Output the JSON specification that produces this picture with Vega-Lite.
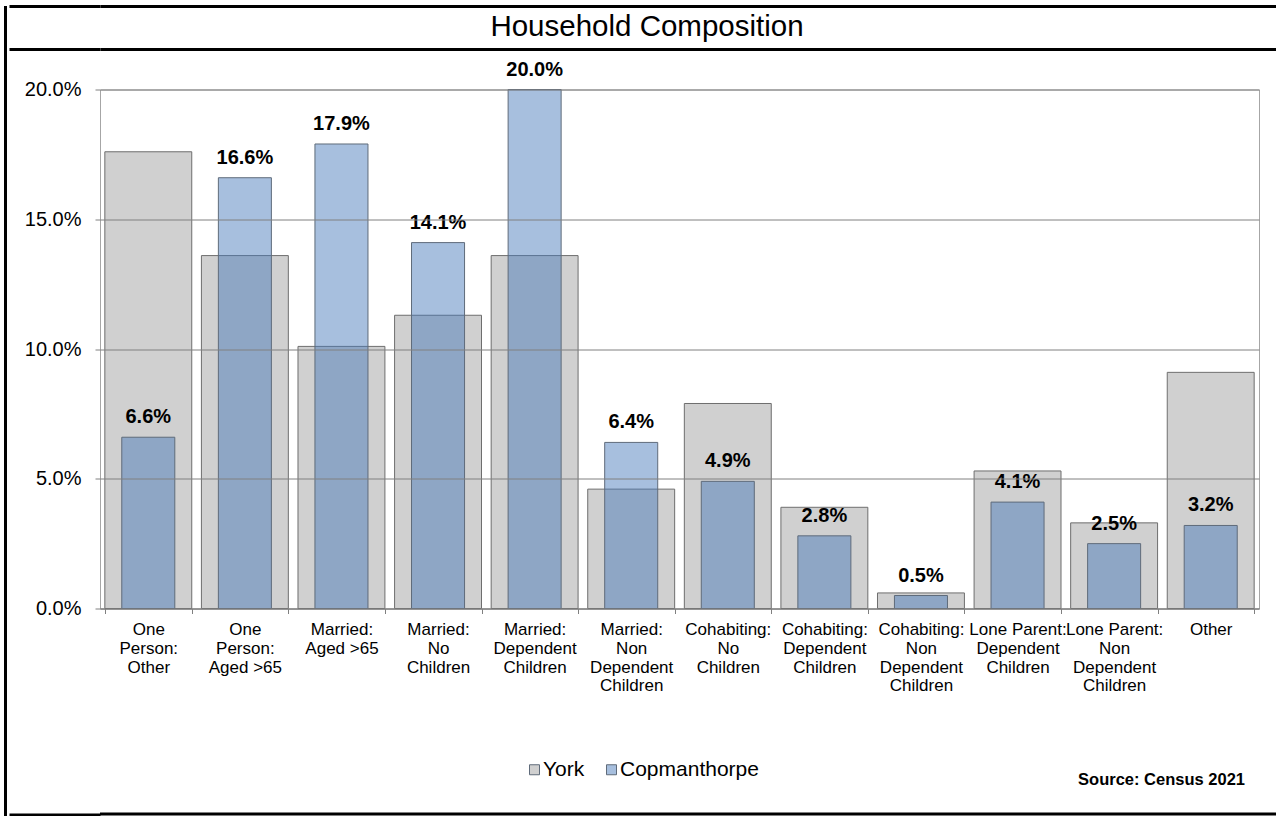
{
  "$schema": "https://vega.github.io/schema/vega-lite/v6.json",
  "background": "white",
  "padding": {"left": 4, "top": 4, "right": 0, "bottom": 0},
  "autosize": {"type": "pad"},
  "config": {"font": "Liberation Sans", "view": {"stroke": null}},
  "datasets": {
    "hh": [
      {"cat": "One|Person:|Other", "series": "York", "value": 0.176},
      {"cat": "One|Person:|Other", "series": "Copmanthorpe", "value": 0.066},
      {"cat": "One|Person:|Aged >65", "series": "York", "value": 0.136},
      {"cat": "One|Person:|Aged >65", "series": "Copmanthorpe", "value": 0.166},
      {"cat": "Married:|Aged >65", "series": "York", "value": 0.101},
      {"cat": "Married:|Aged >65", "series": "Copmanthorpe", "value": 0.179},
      {"cat": "Married:|No|Children", "series": "York", "value": 0.113},
      {"cat": "Married:|No|Children", "series": "Copmanthorpe", "value": 0.141},
      {"cat": "Married:|Dependent|Children", "series": "York", "value": 0.136},
      {"cat": "Married:|Dependent|Children", "series": "Copmanthorpe", "value": 0.200},
      {"cat": "Married:|Non|Dependent|Children", "series": "York", "value": 0.046},
      {"cat": "Married:|Non|Dependent|Children", "series": "Copmanthorpe", "value": 0.064},
      {"cat": "Cohabiting:|No|Children", "series": "York", "value": 0.079},
      {"cat": "Cohabiting:|No|Children", "series": "Copmanthorpe", "value": 0.049},
      {"cat": "Cohabiting:|Dependent|Children", "series": "York", "value": 0.039},
      {"cat": "Cohabiting:|Dependent|Children", "series": "Copmanthorpe", "value": 0.028},
      {"cat": "Cohabiting:|Non|Dependent|Children", "series": "York", "value": 0.006},
      {"cat": "Cohabiting:|Non|Dependent|Children", "series": "Copmanthorpe", "value": 0.005},
      {"cat": "Lone Parent:|Dependent|Children", "series": "York", "value": 0.053},
      {"cat": "Lone Parent:|Dependent|Children", "series": "Copmanthorpe", "value": 0.041},
      {"cat": "Lone Parent:|Non|Dependent|Children", "series": "York", "value": 0.033},
      {"cat": "Lone Parent:|Non|Dependent|Children", "series": "Copmanthorpe", "value": 0.025},
      {"cat": "Other", "series": "York", "value": 0.091},
      {"cat": "Other", "series": "Copmanthorpe", "value": 0.032}
    ]
  },
  "spacing": 0,
  "hconcat": [
    {
      "width": 3,
      "height": 816,
      "view": {"fill": "black", "stroke": null},
      "data": {"values": [{"t": ""}]},
      "mark": {"type": "text"},
      "encoding": {"text": {"field": "t"}}
    },
    {
      "spacing": 7.5,
      "vconcat": [
        {
          "width": 1180,
          "height": 42.5,
          "view": {"fill": "white", "stroke": null},
          "data": {"values": [{"t": "Household Composition", "v": 0.5}]},
          "mark": {"type": "text", "fontSize": 29.5, "color": "black", "baseline": "middle", "align": "center", "dx": -43},
          "encoding": {
            "text": {"field": "t"},
            "y": {"field": "v", "type": "quantitative", "scale": {"domain": [0, 1], "nice": false},
                  "axis": {"title": null, "values": [0, 1], "labels": false, "domain": false, "ticks": true, "tickSize": 91, "tickWidth": 3, "tickColor": "black", "grid": true, "gridColor": "black", "gridWidth": 3, "minExtent": 91, "maxExtent": 91}}
          }
        },
        {
          "spacing": 18,
          "vconcat": [
            {
              "width": 1159,
              "height": 519,
              "view": {"stroke": "#A6A6A6", "strokeWidth": 1, "fill": "white"},
              "data": {"name": "hh"},
              "title": {"text": "Source: Census 2021", "orient": "bottom", "anchor": "end", "frame": "group", "offset": 78, "dx": -14, "fontSize": 16.5, "fontWeight": "bold", "color": "black"},
              "encoding": {
                "x": {
                  "field": "cat", "type": "nominal", "sort": null,
                  "scale": {"paddingInner": 0.1, "paddingOuter": 0.05},
                  "axis": {"title": null, "labelAngle": 0, "labelExpr": "split(datum.label, '|')", "labelFontSize": 17, "labelLineHeight": 18.8, "labelColor": "black", "labelPadding": 8, "tickBand": "extent", "tickSize": 5, "tickColor": "#808080", "domainColor": "#808080", "grid": false}
                },
                "y": {
                  "field": "value", "type": "quantitative",
                  "scale": {"domain": [0, 0.2], "nice": false},
                  "axis": {"title": null, "values": [0, 0.05, 0.1, 0.15, 0.2], "format": ".1%", "grid": true, "gridColor": "#808080", "gridWidth": 1, "zindex": 1, "domain": false, "tickSize": 5, "tickColor": "#808080", "labelFontSize": 20, "labelColor": "black", "labelPadding": 14, "minExtent": 91, "maxExtent": 91}
                }
              },
              "layer": [
                {
                  "transform": [{"filter": "datum.series === 'York'"}],
                  "mark": {"type": "bar", "stroke": "#6E6E6E", "strokeWidth": 1},
                  "encoding": {
                    "color": {
                      "field": "series", "type": "nominal",
                      "scale": {"domain": ["York", "Copmanthorpe"], "range": ["#D0D0D0", "rgba(67,120,185,0.47)"]},
                      "legend": {"title": null, "orient": "none", "legendX": 520, "legendY": 753, "direction": "horizontal", "symbolType": "square", "symbolSize": 100, "symbolStrokeColor": "#6E6E6E", "symbolStrokeWidth": 1, "labelFontSize": 21, "labelColor": "black", "labelOffset": -2, "columnPadding": 16, "padding": 0}
                    }
                  }
                },
                {
                  "transform": [{"filter": "datum.series === 'Copmanthorpe'"}],
                  "mark": {"type": "bar", "stroke": "#5F6B7A", "strokeWidth": 1, "width": {"band": 0.61}},
                  "encoding": {
                    "color": {"field": "series", "type": "nominal", "scale": {"domain": ["York", "Copmanthorpe"], "range": ["#D0D0D0", "rgba(67,120,185,0.47)"]}}
                  }
                },
                {
                  "transform": [{"filter": "datum.series === 'Copmanthorpe'"}],
                  "mark": {"type": "text", "fontSize": 20, "fontWeight": "bold", "dy": -14, "baseline": "alphabetic", "color": "black"},
                  "encoding": {"text": {"field": "value", "type": "quantitative", "format": ".1%"}}
                }
              ]
            },
            {
              "width": 1180,
              "height": 3,
              "view": {"fill": "black", "stroke": null},
              "data": {"values": [{"t": "", "v": 0.5}]},
              "mark": {"type": "text"},
              "encoding": {
                "text": {"field": "t"},
                "y": {"field": "v", "type": "quantitative", "scale": {"domain": [0, 1], "nice": false},
                      "axis": {"title": null, "values": [0.5], "labels": false, "domain": false, "ticks": true, "tickSize": 91, "tickWidth": 3, "tickColor": "black", "grid": false, "minExtent": 91, "maxExtent": 91}}
              }
            }
          ]
        }
      ]
    }
  ]
}
